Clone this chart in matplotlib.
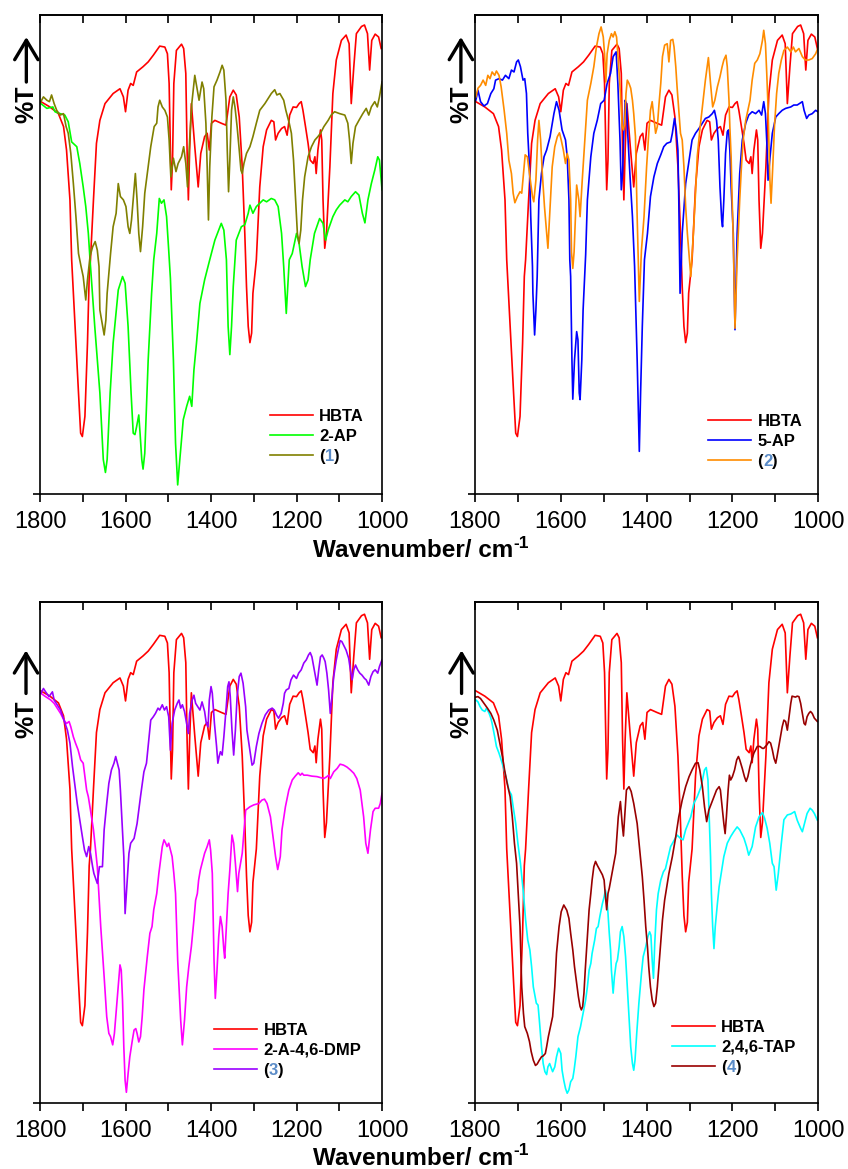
import matplotlib.pyplot as plt
from matplotlib.ticker import MultipleLocator

plt.rcParams['font.family'] = ['Liberation Sans', 'DejaVu Sans']

# IR spectra, (wavenumber / cm-1, %T) pairs
hbta = [(1798, 81.9), (1777, 80.8), (1757, 79.4), (1745, 76.7), (1738, 71.8), (1730, 61.4), (1726, 48.9),
        (1718, 35.0), (1710, 21.1), (1705, 12.7), (1701, 12.0), (1695, 16.2), (1689, 31.5), (1685, 45.4),
        (1682, 48.9), (1675, 61.4), (1668, 73.2), (1660, 78.0), (1648, 81.5), (1629, 83.6), (1613, 84.6),
        (1605, 82.9), (1600, 79.8), (1594, 84.3), (1588, 85.7), (1582, 85.3), (1574, 88.1), (1559, 89.2),
        (1547, 90.2), (1535, 91.6), (1520, 93.5), (1508, 93.3), (1502, 91.9), (1498, 85.7), (1495, 71.8),
        (1493, 63.5), (1490, 69.7), (1487, 85.7), (1481, 92.6), (1469, 93.9), (1464, 93.0), (1459, 87.8),
        (1456, 71.8), (1453, 61.4), (1450, 71.8), (1446, 81.5), (1438, 72.5), (1430, 64.1), (1424, 71.1),
        (1415, 74.6), (1409, 75.3), (1404, 71.8), (1399, 77.4), (1391, 78.0), (1376, 77.4), (1365, 77.0),
        (1356, 82.9), (1348, 84.3), (1341, 83.3), (1334, 78.7), (1327, 68.3), (1321, 54.4), (1317, 43.3),
        (1313, 35.0), (1309, 31.6), (1305, 33.6), (1302, 41.9), (1294, 48.9), (1286, 64.1), (1278, 72.5),
        (1270, 76.0), (1259, 78.0), (1253, 77.7), (1249, 73.9), (1243, 75.3), (1235, 76.3), (1228, 76.7),
        (1222, 74.9), (1216, 79.1), (1208, 80.8), (1200, 80.7), (1194, 81.5), (1189, 81.9), (1185, 80.1),
        (1179, 76.7), (1173, 73.2), (1168, 69.7), (1161, 69.0), (1157, 70.4), (1154, 66.9), (1150, 71.8),
        (1144, 76.0), (1141, 73.9), (1138, 61.4), (1134, 51.3), (1130, 54.4), (1122, 68.3), (1115, 83.6),
        (1107, 90.6), (1095, 94.7), (1084, 95.8), (1077, 94.0), (1072, 81.5), (1066, 89.2), (1060, 96.1),
        (1048, 97.6), (1041, 97.9), (1034, 96.1), (1029, 88.5), (1024, 94.7), (1016, 96.0), (1008, 95.4),
        (1002, 93.0)]

ap2 = [(1798, 81.5), (1784, 80.5), (1770, 80.8), (1765, 79.8), (1753, 79.4), (1742, 79.1), (1734, 77.7),
       (1726, 73.5), (1714, 72.5), (1707, 69.0), (1699, 64.1), (1693, 60.0), (1687, 54.4), (1683, 48.9),
       (1672, 35.0), (1660, 21.1), (1652, 7.2), (1647, 4.5), (1643, 7.2), (1636, 21.1), (1629, 31.5),
       (1617, 42.6), (1607, 45.4), (1601, 44.0), (1594, 35.0), (1587, 21.1), (1582, 12.7), (1578, 12.4),
       (1574, 14.1), (1569, 16.5), (1566, 12.7), (1562, 7.2), (1559, 5.2), (1555, 8.5), (1547, 28.0),
       (1539, 41.9), (1534, 48.9), (1527, 54.4), (1521, 61.7), (1516, 60.7), (1510, 61.4), (1504, 57.9),
       (1499, 50.9), (1495, 45.0), (1488, 28.0), (1483, 10.6), (1478, 1.9), (1473, 7.2), (1465, 15.5),
       (1457, 18.3), (1450, 20.4), (1445, 18.3), (1440, 25.9), (1434, 31.5), (1426, 39.8), (1415, 44.7),
       (1403, 48.9), (1391, 53.0), (1376, 56.5), (1370, 55.1), (1364, 48.9), (1360, 35.0), (1356, 29.1),
       (1352, 35.0), (1348, 43.3), (1341, 53.0), (1329, 55.8), (1321, 56.2), (1313, 58.6), (1309, 60.3),
       (1302, 58.6), (1294, 60.0), (1278, 61.4), (1270, 61.0), (1259, 61.7), (1251, 61.4), (1243, 60.0),
       (1235, 54.4), (1230, 47.5), (1224, 37.7), (1217, 48.9), (1210, 50.2), (1200, 54.4), (1194, 52.3),
       (1187, 47.5), (1179, 43.3), (1173, 44.7), (1168, 48.9), (1158, 54.4), (1146, 57.5), (1138, 56.5),
       (1132, 53.0), (1126, 55.1), (1115, 57.9), (1107, 59.3), (1099, 60.3), (1087, 61.4), (1080, 61.0),
       (1072, 62.1), (1062, 63.1), (1054, 62.4), (1046, 58.6), (1040, 56.6), (1033, 61.4), (1025, 64.8),
       (1017, 67.6), (1010, 70.4), (1006, 69.7), (1000, 63.5)]

cmpd1 = [(1798, 81.9), (1792, 82.9), (1784, 82.2), (1778, 81.9), (1773, 83.3), (1767, 81.5), (1761, 80.1),
         (1753, 79.1), (1745, 79.4), (1739, 76.7), (1734, 75.3), (1728, 71.1), (1722, 64.8), (1716, 57.9),
         (1710, 50.2), (1704, 47.5), (1699, 45.4), (1693, 40.5), (1689, 44.7), (1683, 49.6), (1677, 51.6),
         (1671, 52.7), (1666, 50.9), (1662, 47.5), (1660, 38.4), (1656, 36.3), (1650, 33.2), (1646, 36.3),
         (1643, 41.9), (1635, 50.2), (1629, 55.8), (1622, 58.6), (1617, 64.8), (1612, 62.1), (1605, 61.4),
         (1599, 60.0), (1594, 55.8), (1590, 54.4), (1586, 57.2), (1582, 61.4), (1577, 66.9), (1573, 61.4),
         (1569, 54.4), (1565, 50.6), (1560, 55.8), (1555, 62.8), (1547, 68.3), (1541, 72.5), (1537, 74.6),
         (1533, 76.7), (1527, 77.4), (1524, 80.8), (1520, 82.2), (1514, 80.8), (1508, 80.1), (1502, 78.7),
         (1498, 73.9), (1494, 66.2), (1488, 70.1), (1482, 67.3), (1477, 69.0), (1469, 70.4), (1464, 72.5),
         (1459, 69.0), (1455, 64.1), (1450, 73.9), (1445, 81.5), (1438, 87.4), (1432, 84.3), (1428, 82.2),
         (1421, 86.0), (1417, 84.6), (1412, 77.4), (1409, 68.3), (1406, 57.2), (1403, 68.3), (1398, 78.7),
         (1393, 85.0), (1386, 86.4), (1379, 88.1), (1374, 89.5), (1370, 88.5), (1365, 82.2), (1362, 71.8),
         (1359, 63.1), (1356, 69.7), (1352, 80.1), (1348, 82.9), (1344, 80.8), (1339, 76.7), (1334, 71.8),
         (1330, 67.6), (1327, 66.9), (1323, 69.0), (1317, 71.1), (1309, 72.5), (1302, 74.6), (1294, 77.4),
         (1286, 80.1), (1274, 81.5), (1264, 82.9), (1259, 83.6), (1251, 84.4), (1246, 83.3), (1239, 83.6),
         (1230, 82.2), (1225, 80.1), (1217, 77.4), (1212, 75.3), (1207, 69.7), (1202, 61.4), (1198, 54.4),
         (1194, 52.3), (1190, 55.1), (1186, 61.4), (1181, 66.2), (1173, 70.4), (1165, 72.5), (1157, 73.9),
         (1150, 74.6), (1144, 75.3), (1136, 76.7), (1126, 78.0), (1119, 79.1), (1111, 79.8), (1099, 79.4),
         (1087, 79.1), (1080, 77.4), (1076, 73.9), (1072, 69.0), (1068, 73.2), (1062, 76.7), (1054, 78.0),
         (1045, 79.4), (1037, 80.5), (1031, 79.1), (1025, 80.8), (1017, 81.9), (1011, 80.8), (1006, 82.9),
         (1000, 86.0)]

ap5 = [(1798, 82.2), (1793, 84.3), (1787, 81.9), (1779, 81.0), (1771, 81.5), (1763, 83.6), (1756, 84.6),
       (1752, 86.4), (1744, 86.7), (1736, 86.4), (1729, 87.4), (1721, 86.7), (1715, 88.5), (1709, 88.1),
       (1703, 90.2), (1699, 90.6), (1694, 89.2), (1688, 86.4), (1684, 86.7), (1680, 83.6), (1677, 75.3),
       (1673, 68.3), (1670, 57.9), (1666, 47.5), (1665, 41.9), (1661, 33.2), (1658, 38.4), (1655, 45.4),
       (1651, 61.4), (1645, 66.9), (1639, 70.4), (1633, 71.8), (1625, 74.6), (1616, 79.4), (1610, 81.9),
       (1604, 80.1), (1597, 76.0), (1589, 73.9), (1585, 70.4), (1581, 61.4), (1579, 48.9), (1577, 45.4),
       (1574, 28.0), (1572, 19.8), (1568, 28.0), (1563, 33.9), (1560, 32.2), (1557, 21.1), (1555, 19.7),
       (1551, 28.0), (1548, 38.4), (1542, 50.0), (1538, 61.4), (1530, 70.4), (1523, 75.3), (1515, 78.0),
       (1507, 81.5), (1499, 82.2), (1492, 85.7), (1484, 87.8), (1478, 91.3), (1471, 92.3), (1467, 85.7),
       (1462, 73.9), (1459, 63.5), (1456, 66.9), (1453, 75.3), (1450, 82.2), (1447, 81.5), (1444, 75.3),
       (1439, 66.9), (1433, 57.9), (1428, 47.5), (1422, 28.0), (1417, 8.9), (1414, 21.1), (1410, 35.0),
       (1405, 48.9), (1398, 54.4), (1391, 62.1), (1383, 66.2), (1375, 69.0), (1367, 70.8), (1360, 72.5),
       (1353, 73.2), (1344, 73.5), (1340, 75.3), (1335, 78.4), (1331, 76.0), (1327, 71.8), (1325, 61.4),
       (1322, 41.9), (1319, 48.9), (1317, 54.4), (1309, 64.8), (1301, 69.7), (1294, 73.9), (1286, 75.3),
       (1278, 76.3), (1270, 77.4), (1263, 78.4), (1255, 78.7), (1247, 79.4), (1242, 80.1), (1237, 78.0),
       (1233, 73.9), (1229, 64.1), (1225, 57.2), (1223, 55.8), (1220, 61.4), (1216, 71.1), (1212, 75.6),
       (1209, 76.0), (1206, 71.8), (1203, 64.1), (1198, 54.4), (1194, 34.3), (1189, 54.4), (1183, 66.9),
       (1177, 73.9), (1169, 77.4), (1162, 79.1), (1154, 79.8), (1146, 79.4), (1138, 80.1), (1132, 79.1),
       (1127, 81.9), (1123, 79.4), (1119, 71.8), (1117, 65.5), (1113, 69.7), (1107, 75.3), (1099, 78.7),
       (1092, 79.4), (1084, 80.1), (1076, 80.5), (1064, 80.8), (1057, 81.2), (1049, 81.2), (1037, 81.9),
       (1033, 80.1), (1027, 78.4), (1022, 79.1), (1014, 79.4), (1006, 80.1), (1001, 79.8)]

cmpd2 = [(1798, 82.9), (1793, 84.7), (1787, 85.3), (1781, 86.4), (1775, 85.3), (1770, 87.4), (1765, 86.7),
         (1760, 88.1), (1754, 87.4), (1750, 88.3), (1744, 87.4), (1739, 85.0), (1732, 80.1), (1726, 75.3),
         (1721, 69.7), (1715, 66.9), (1711, 62.8), (1707, 60.8), (1701, 62.1), (1695, 63.1), (1691, 62.8),
         (1687, 66.9), (1683, 70.8), (1678, 70.4), (1672, 66.2), (1666, 62.1), (1663, 61.0), (1658, 65.5),
         (1654, 73.9), (1651, 78.0), (1647, 73.9), (1643, 66.9), (1638, 60.0), (1633, 54.4), (1630, 51.3),
         (1625, 60.0), (1620, 68.3), (1614, 72.5), (1608, 74.6), (1603, 75.4), (1599, 73.9), (1594, 71.8),
         (1589, 69.0), (1585, 71.1), (1581, 69.7), (1577, 61.4), (1575, 50.5), (1572, 47.1), (1569, 50.5),
         (1563, 64.5), (1558, 61.4), (1555, 57.9), (1550, 65.5), (1544, 73.9), (1538, 82.2), (1530, 85.7),
         (1523, 89.2), (1517, 93.3), (1511, 96.1), (1506, 97.5), (1501, 95.4), (1498, 91.9), (1495, 86.0),
         (1492, 91.9), (1487, 94.7), (1482, 96.1), (1478, 95.4), (1474, 96.5), (1470, 95.4), (1466, 90.6),
         (1461, 83.6), (1457, 76.7), (1454, 76.0), (1451, 77.4), (1448, 83.6), (1445, 86.4), (1441, 85.7),
         (1437, 84.7), (1433, 82.2), (1430, 79.4), (1426, 74.6), (1422, 57.9), (1417, 40.2), (1412, 50.9),
         (1406, 57.9), (1400, 68.3), (1395, 75.3), (1391, 80.1), (1387, 81.9), (1383, 78.7), (1379, 75.3),
         (1375, 76.7), (1371, 81.5), (1367, 85.7), (1363, 91.3), (1358, 93.7), (1352, 94.0), (1348, 90.2),
         (1344, 94.7), (1339, 94.9), (1336, 93.3), (1332, 89.2), (1329, 85.0), (1325, 80.1), (1321, 75.3),
         (1317, 73.9), (1313, 68.3), (1309, 60.0), (1305, 54.4), (1297, 45.4), (1291, 54.4), (1286, 62.8),
         (1282, 70.4), (1276, 76.0), (1270, 80.8), (1263, 86.4), (1256, 91.1), (1251, 85.7), (1246, 80.8),
         (1241, 82.2), (1235, 85.0), (1229, 87.1), (1224, 89.2), (1220, 90.6), (1215, 91.6), (1212, 89.2),
         (1208, 82.2), (1206, 76.7), (1203, 70.4), (1201, 62.8), (1198, 53.0), (1194, 34.6), (1189, 48.9),
         (1183, 61.4), (1179, 68.3), (1175, 73.9), (1169, 78.0), (1164, 80.1), (1159, 82.2), (1154, 86.4),
         (1148, 89.9), (1142, 90.6), (1136, 91.9), (1130, 94.7), (1127, 96.8), (1123, 94.0), (1120, 87.8),
         (1117, 80.8), (1115, 73.9), (1113, 66.2), (1110, 60.7), (1106, 68.3), (1102, 76.7), (1097, 83.6),
         (1092, 87.8), (1086, 90.6), (1080, 92.6), (1072, 93.3), (1064, 92.3), (1058, 93.3), (1053, 92.3),
         (1045, 93.0), (1037, 91.3), (1030, 90.6), (1022, 90.6), (1014, 90.9), (1006, 91.9), (1001, 93.0)]

dmp = [(1798, 81.4), (1787, 80.7), (1775, 80.0), (1767, 79.3), (1760, 78.3), (1752, 77.2), (1744, 75.8),
       (1738, 75.1), (1732, 75.5), (1728, 74.4), (1722, 72.3), (1717, 71.0), (1711, 69.6), (1705, 67.5),
       (1699, 66.8), (1695, 64.0), (1691, 61.2), (1687, 59.8), (1682, 57.0), (1675, 52.9), (1670, 48.7),
       (1666, 45.2), (1658, 32.7), (1650, 22.2), (1644, 13.9), (1639, 10.4), (1635, 9.7), (1630, 8.0),
       (1626, 10.4), (1621, 16.0), (1615, 23.0), (1613, 24.7), (1610, 23.6), (1607, 17.4), (1604, 7.6),
       (1601, 0.6), (1598, -1.9), (1594, 2.0), (1590, 5.5), (1584, 9.0), (1580, 11.1), (1576, 11.4),
       (1573, 10.4), (1569, 8.6), (1565, 9.7), (1561, 13.9), (1557, 19.5), (1553, 23.0), (1549, 26.5),
       (1543, 31.3), (1538, 32.7), (1534, 36.2), (1527, 39.6), (1522, 43.8), (1514, 49.4), (1510, 50.8),
       (1506, 50.1), (1503, 49.4), (1499, 50.1), (1495, 48.7), (1491, 47.3), (1487, 43.8), (1483, 39.6),
       (1478, 25.7), (1471, 13.2), (1467, 8.0), (1462, 13.2), (1457, 20.1), (1452, 24.3), (1446, 28.5),
       (1440, 34.1), (1436, 38.2), (1432, 39.6), (1429, 42.4), (1425, 44.5), (1421, 45.9), (1415, 48.0),
       (1409, 49.4), (1404, 50.8), (1401, 48.7), (1397, 43.8), (1393, 25.7), (1390, 17.7), (1386, 23.6),
       (1382, 30.6), (1378, 34.8), (1374, 32.7), (1370, 27.8), (1368, 26.1), (1364, 32.7), (1360, 39.6),
       (1356, 44.5), (1351, 51.8), (1347, 50.1), (1343, 45.9), (1338, 40.0), (1335, 43.8), (1327, 48.0),
       (1319, 57.0), (1309, 57.7), (1300, 58.1), (1288, 58.4), (1281, 59.1), (1275, 59.3), (1269, 58.4),
       (1261, 55.6), (1255, 51.5), (1249, 47.3), (1244, 44.6), (1238, 47.3), (1234, 52.9), (1226, 57.7),
       (1218, 61.2), (1210, 63.3), (1203, 64.1), (1196, 64.8), (1191, 64.3), (1187, 64.7), (1183, 64.3),
       (1175, 64.3), (1164, 64.1), (1152, 64.0), (1144, 63.8), (1136, 63.6), (1129, 64.0), (1125, 64.3),
       (1121, 63.6), (1113, 65.0), (1105, 65.7), (1098, 66.6), (1090, 66.4), (1082, 66.0), (1074, 65.4),
       (1066, 64.7), (1059, 63.6), (1051, 61.2), (1043, 55.6), (1038, 50.1), (1033, 48.0), (1027, 52.9),
       (1021, 56.7), (1016, 57.4), (1008, 57.4), (1004, 58.4), (1000, 60.5)]

cmpd3 = [(1798, 81.4), (1792, 82.4), (1787, 81.7), (1779, 80.7), (1771, 81.7), (1767, 80.0), (1760, 79.0),
         (1752, 77.9), (1744, 75.8), (1736, 73.7), (1730, 71.0), (1724, 66.1), (1719, 62.6), (1713, 58.4),
         (1707, 54.9), (1701, 51.5), (1696, 48.7), (1691, 47.3), (1686, 49.4), (1682, 48.0), (1677, 45.2),
         (1674, 43.8), (1666, 41.7), (1661, 45.2), (1654, 45.2), (1650, 52.9), (1644, 58.4), (1639, 62.6),
         (1633, 65.4), (1627, 66.8), (1623, 68.2), (1619, 66.8), (1615, 65.4), (1612, 61.2), (1608, 54.2),
         (1604, 47.3), (1601, 35.4), (1598, 39.6), (1592, 48.0), (1588, 50.1), (1580, 51.1), (1573, 54.2),
         (1565, 59.8), (1557, 65.0), (1551, 66.8), (1545, 72.3), (1541, 75.8), (1535, 76.5), (1530, 77.2),
         (1524, 78.3), (1520, 77.9), (1514, 79.0), (1509, 77.9), (1504, 78.6), (1499, 76.5), (1495, 69.5),
         (1491, 75.1), (1485, 77.9), (1479, 79.3), (1475, 80.0), (1471, 78.3), (1467, 79.0), (1462, 77.6),
         (1457, 75.1), (1453, 73.0), (1450, 77.2), (1444, 80.0), (1440, 81.0), (1436, 79.3), (1431, 78.6),
         (1426, 77.9), (1421, 79.6), (1415, 77.6), (1411, 75.1), (1407, 74.4), (1404, 80.0), (1400, 82.8),
         (1397, 81.4), (1392, 75.1), (1387, 70.3), (1384, 66.8), (1381, 68.2), (1378, 69.2), (1374, 68.5),
         (1370, 72.3), (1365, 77.9), (1361, 82.8), (1358, 83.8), (1355, 80.7), (1351, 73.7), (1347, 68.5),
         (1343, 73.7), (1339, 80.7), (1334, 84.9), (1330, 85.6), (1325, 83.5), (1319, 78.6), (1316, 73.7),
         (1309, 69.5), (1304, 66.4), (1300, 66.8), (1294, 70.3), (1288, 73.0), (1281, 75.1), (1273, 76.9),
         (1265, 77.9), (1257, 78.3), (1252, 77.9), (1247, 76.9), (1242, 76.2), (1236, 77.2), (1231, 79.3),
         (1228, 81.4), (1224, 82.1), (1218, 82.4), (1213, 84.2), (1207, 85.2), (1200, 84.5), (1195, 85.6),
         (1189, 86.3), (1183, 87.7), (1177, 88.4), (1172, 89.4), (1168, 89.9), (1164, 89.0), (1160, 87.0),
         (1156, 84.9), (1152, 83.1), (1148, 86.3), (1144, 89.0), (1140, 89.4), (1136, 88.7), (1133, 88.0),
         (1129, 85.6), (1125, 82.1), (1121, 77.2), (1117, 80.7), (1113, 84.9), (1107, 88.4), (1101, 91.1),
         (1098, 92.4), (1094, 92.2), (1090, 91.5), (1084, 90.4), (1078, 88.7), (1074, 86.3), (1070, 84.2),
         (1066, 86.3), (1062, 87.3), (1057, 86.3), (1052, 85.6), (1047, 85.2), (1041, 84.5), (1037, 84.2),
         (1031, 83.1), (1026, 84.9), (1021, 85.9), (1016, 86.3), (1010, 85.6), (1006, 87.0), (1000, 88.4)]

tap = [(1798, 80.0), (1793, 79.6), (1788, 78.6), (1783, 77.9), (1777, 77.6), (1773, 78.3), (1767, 77.2),
       (1763, 76.2), (1760, 75.1), (1754, 72.3), (1750, 70.3), (1744, 68.9), (1739, 67.5), (1732, 65.4),
       (1726, 63.3), (1721, 61.2), (1715, 60.2), (1711, 57.7), (1705, 54.2), (1700, 50.1), (1694, 45.9),
       (1687, 39.6), (1682, 34.1), (1677, 29.9), (1672, 27.8), (1668, 24.3), (1664, 20.1), (1660, 18.1),
       (1657, 16.7), (1653, 16.3), (1650, 13.2), (1645, 7.6), (1641, 4.1), (1637, 2.4), (1633, 1.8),
       (1630, 3.4), (1626, 4.1), (1622, 3.1), (1619, 2.4), (1614, 3.4), (1610, 5.5), (1605, 7.3),
       (1600, 6.2), (1597, 2.7), (1593, 0.6), (1589, -1.1), (1585, -2.1), (1581, -1.4), (1577, 0.3),
       (1572, 1.0), (1569, 2.7), (1565, 5.5), (1560, 9.7), (1554, 11.8), (1548, 14.6), (1542, 17.4),
       (1538, 20.1), (1534, 23.6), (1530, 25.0), (1527, 27.1), (1521, 29.9), (1517, 32.3), (1513, 32.7),
       (1509, 34.8), (1503, 37.5), (1499, 38.9), (1496, 40.3), (1493, 38.9), (1490, 35.5), (1487, 31.3),
       (1484, 27.8), (1482, 23.6), (1479, 20.1), (1478, 18.8), (1475, 22.2), (1471, 25.0), (1468, 25.7),
       (1464, 28.5), (1461, 31.6), (1457, 32.7), (1453, 30.6), (1449, 26.4), (1445, 20.1), (1441, 13.9),
       (1437, 7.6), (1433, 4.1), (1430, 2.7), (1427, 4.8), (1423, 10.4), (1418, 16.7), (1412, 22.9),
       (1408, 26.4), (1402, 28.5), (1397, 30.6), (1393, 31.6), (1390, 30.9), (1387, 25.7), (1384, 21.9),
       (1381, 29.2), (1377, 36.2), (1373, 39.6), (1367, 42.4), (1361, 44.1), (1356, 44.8), (1344, 49.4),
       (1329, 51.8), (1321, 51.1), (1315, 50.8), (1309, 52.9), (1297, 55.6), (1290, 58.4), (1282, 59.8),
       (1273, 61.9), (1265, 65.4), (1261, 65.9), (1257, 63.3), (1254, 55.6), (1251, 47.3), (1249, 39.6),
       (1246, 32.7), (1243, 28.1), (1240, 32.7), (1235, 37.5), (1231, 41.0), (1226, 43.8), (1220, 47.3),
       (1212, 50.1), (1204, 51.5), (1197, 52.5), (1189, 53.5), (1183, 52.9), (1173, 51.1), (1167, 49.4),
       (1162, 47.6), (1154, 49.4), (1146, 53.5), (1138, 55.6), (1130, 56.5), (1125, 55.3), (1119, 53.2),
       (1113, 50.1), (1107, 45.9), (1103, 45.2), (1098, 40.3), (1093, 43.8), (1086, 50.1), (1080, 55.0),
       (1072, 56.0), (1064, 56.2), (1055, 56.7), (1049, 54.9), (1041, 53.2), (1037, 52.5), (1032, 54.2),
       (1026, 56.3), (1019, 57.4), (1014, 57.0), (1009, 56.3), (1002, 54.9)]

cmpd4 = [(1798, 80.6), (1793, 80.7), (1787, 80.3), (1779, 79.3), (1771, 78.3), (1763, 77.2), (1756, 75.8),
         (1748, 73.7), (1742, 71.0), (1736, 68.2), (1731, 65.4), (1725, 62.6), (1718, 59.8), (1713, 55.6),
         (1708, 50.1), (1703, 45.9), (1695, 32.7), (1691, 20.1), (1687, 14.6), (1684, 11.8), (1678, 10.4),
         (1673, 8.7), (1669, 6.6), (1664, 4.8), (1659, 3.7), (1655, 4.0), (1650, 4.8), (1645, 5.5),
         (1641, 5.7), (1636, 6.2), (1633, 7.6), (1629, 9.7), (1624, 11.8), (1619, 13.9), (1614, 20.1),
         (1610, 27.1), (1604, 32.7), (1599, 35.8), (1593, 37.2), (1586, 36.1), (1581, 34.4), (1577, 31.3),
         (1572, 27.8), (1568, 24.3), (1563, 20.8), (1559, 18.1), (1555, 16.0), (1552, 15.3), (1549, 16.0),
         (1546, 18.8), (1543, 23.6), (1538, 30.6), (1534, 36.2), (1530, 39.6), (1527, 42.4), (1523, 45.2),
         (1519, 46.3), (1515, 45.5), (1509, 44.5), (1503, 43.5), (1499, 42.4), (1496, 39.0), (1493, 36.2),
         (1490, 39.6), (1487, 40.7), (1482, 43.1), (1479, 44.5), (1472, 48.0), (1466, 55.6), (1461, 58.8),
         (1457, 54.2), (1454, 51.6), (1451, 55.6), (1447, 61.2), (1441, 61.9), (1436, 60.9), (1430, 58.4),
         (1422, 54.2), (1416, 48.7), (1410, 43.1), (1406, 38.2), (1402, 32.7), (1398, 28.5), (1395, 24.3),
         (1391, 20.1), (1387, 17.4), (1383, 16.0), (1379, 16.7), (1375, 20.1), (1369, 27.1), (1363, 34.1),
         (1358, 38.2), (1353, 41.0), (1348, 43.8), (1340, 47.3), (1332, 51.5), (1325, 55.6), (1317, 59.1),
         (1309, 61.9), (1301, 64.0), (1294, 65.4), (1286, 66.8), (1280, 66.9), (1276, 65.4), (1270, 61.9),
         (1265, 57.7), (1260, 54.6), (1255, 57.0), (1249, 58.4), (1243, 59.8), (1237, 61.2), (1231, 61.9),
         (1228, 61.2), (1224, 57.7), (1220, 54.2), (1217, 52.1), (1214, 55.6), (1210, 61.2), (1207, 64.3),
         (1204, 63.3), (1200, 64.0), (1195, 65.4), (1190, 67.5), (1186, 68.2), (1183, 67.5), (1177, 65.7),
         (1172, 64.0), (1168, 63.0), (1164, 64.0), (1159, 66.1), (1154, 67.8), (1150, 68.9), (1146, 69.6),
         (1142, 70.3), (1136, 70.3), (1130, 69.9), (1127, 69.9), (1120, 70.6), (1115, 71.3), (1111, 71.0),
         (1107, 69.6), (1103, 67.8), (1099, 66.8), (1096, 68.2), (1092, 70.3), (1088, 72.3), (1084, 74.4),
         (1080, 75.8), (1076, 75.5), (1072, 73.7), (1068, 76.5), (1064, 79.3), (1061, 80.8), (1057, 80.7),
         (1053, 80.6), (1049, 80.8), (1045, 80.7), (1041, 79.3), (1037, 77.2), (1033, 75.1), (1030, 74.8),
         (1026, 76.5), (1022, 77.2), (1018, 77.6), (1014, 77.2), (1009, 76.2), (1002, 75.5)]

panels = [
    dict(rect=[0.0472, 0.5774, 0.4033, 0.4098], ylim=(0, 100), num='1',
         series=[(hbta, 'HBTA', '#ff0000'), (ap2, '2-AP', '#00ff00'), (cmpd1, '(', '#808000')],
         leg=(0.6725, 0.121), lab_x=-0.040, lab_y=(0.814, 0.860, 0.954)),
    dict(rect=[0.5601, 0.5774, 0.4048, 0.4098], ylim=(0, 100), num='2',
         series=[(hbta, 'HBTA', '#ff0000'), (ap5, '5-AP', '#0000ff'), (cmpd2, '(', '#ff8c00')],
         leg=(0.679, 0.109), lab_x=-0.041, lab_y=(0.814, 0.860, 0.954)),
    dict(rect=[0.0472, 0.0562, 0.4033, 0.4286], ylim=(-4.2, 100.4), num='3',
         series=[(hbta, 'HBTA', '#ff0000'), (dmp, '2-A-4,6-DMP', '#ff00ff'), (cmpd3, '(', '#9900ff')],
         leg=(0.509, 0.106), lab_x=-0.041, lab_y=(0.766, 0.818, 0.904)),
    dict(rect=[0.5601, 0.0562, 0.4048, 0.4286], ylim=(-4.2, 100.4), num='4',
         series=[(hbta, 'HBTA', '#ff0000'), (tap, '2,4,6-TAP', '#00ffff'), (cmpd4, '(', '#990000')],
         leg=(0.574, 0.112), lab_x=-0.039, lab_y=(0.766, 0.818, 0.904)),
]

fig = plt.figure(figsize=(8.48, 11.69), dpi=100)

for p in panels:
    ax = fig.add_axes(p['rect'])
    for pts, label, color in p['series']:
        wn = [a for a, b in pts]
        t = [b for a, b in pts]
        ax.plot(wn, t, color=color, lw=1.2, label=label)

    ax.set_xlim(1800, 1000)
    ax.set_ylim(*p['ylim'])
    ax.xaxis.set_major_locator(MultipleLocator(200))
    ax.xaxis.set_minor_locator(MultipleLocator(100))
    ax.tick_params(axis='x', which='both', direction='out', length=6, width=1.2,
                   labelsize=17, pad=6)
    ax.set_yticks([p['ylim'][0]])
    ax.tick_params(axis='y', direction='out', length=5, width=1.2, labelleft=False)
    for s in ax.spines.values():
        s.set_linewidth(1.2)

    top = ax.secondary_xaxis('top')
    top.xaxis.set_major_locator(MultipleLocator(100))
    top.tick_params(direction='in', length=6, width=1.2, labeltop=False)
    top.spines['top'].set_linewidth(1.2)

    # %T label with upward arrow
    x0 = p['lab_x']
    yc, ya, yb = p['lab_y']
    ax.text(x0, yc, '%T', rotation=90, ha='center', va='center', transform=ax.transAxes,
            fontsize=18, fontweight='bold')
    ax.annotate('', xy=(x0, yb), xytext=(x0, ya), xycoords='axes fraction',
                arrowprops=dict(arrowstyle='->,head_length=0.7,head_width=0.42', lw=2.4,
                                color='black', shrinkA=0, shrinkB=0, mutation_scale=20))

    leg = ax.legend(loc='center left', bbox_to_anchor=p['leg'], frameon=False,
                    borderpad=0, borderaxespad=0, handlelength=2.6, handletextpad=0.36,
                    labelspacing=0.3, prop={'size': 12, 'weight': 'bold'})
    # compound number in blue inside the "(n)" label
    last = leg.get_texts()[-1]
    num = ax.annotate(p['num'], xy=(1, 0), xycoords=last, ha='left', va='bottom',
                      fontsize=12, fontweight='bold', color='#5b8cc8', zorder=6)
    ax.annotate(')', xy=(1, 0), xycoords=num, ha='left', va='bottom',
                fontsize=12, fontweight='bold', color='black', zorder=6)

# x-axis titles, with a plain-hyphen superscript
for base in (0.5235, 0.0035):
    lab = fig.text(0.369, base, 'Wavenumber/ cm', ha='left', va='baseline',
                   fontsize=17.5, fontweight='bold')
    ax.annotate('-1', xy=(1, 0.5), xycoords=lab, ha='left', va='bottom',
                fontsize=12.5, fontweight='bold', annotation_clip=False)

fig.canvas.draw()
fig.savefig('out.png', dpi=100)
